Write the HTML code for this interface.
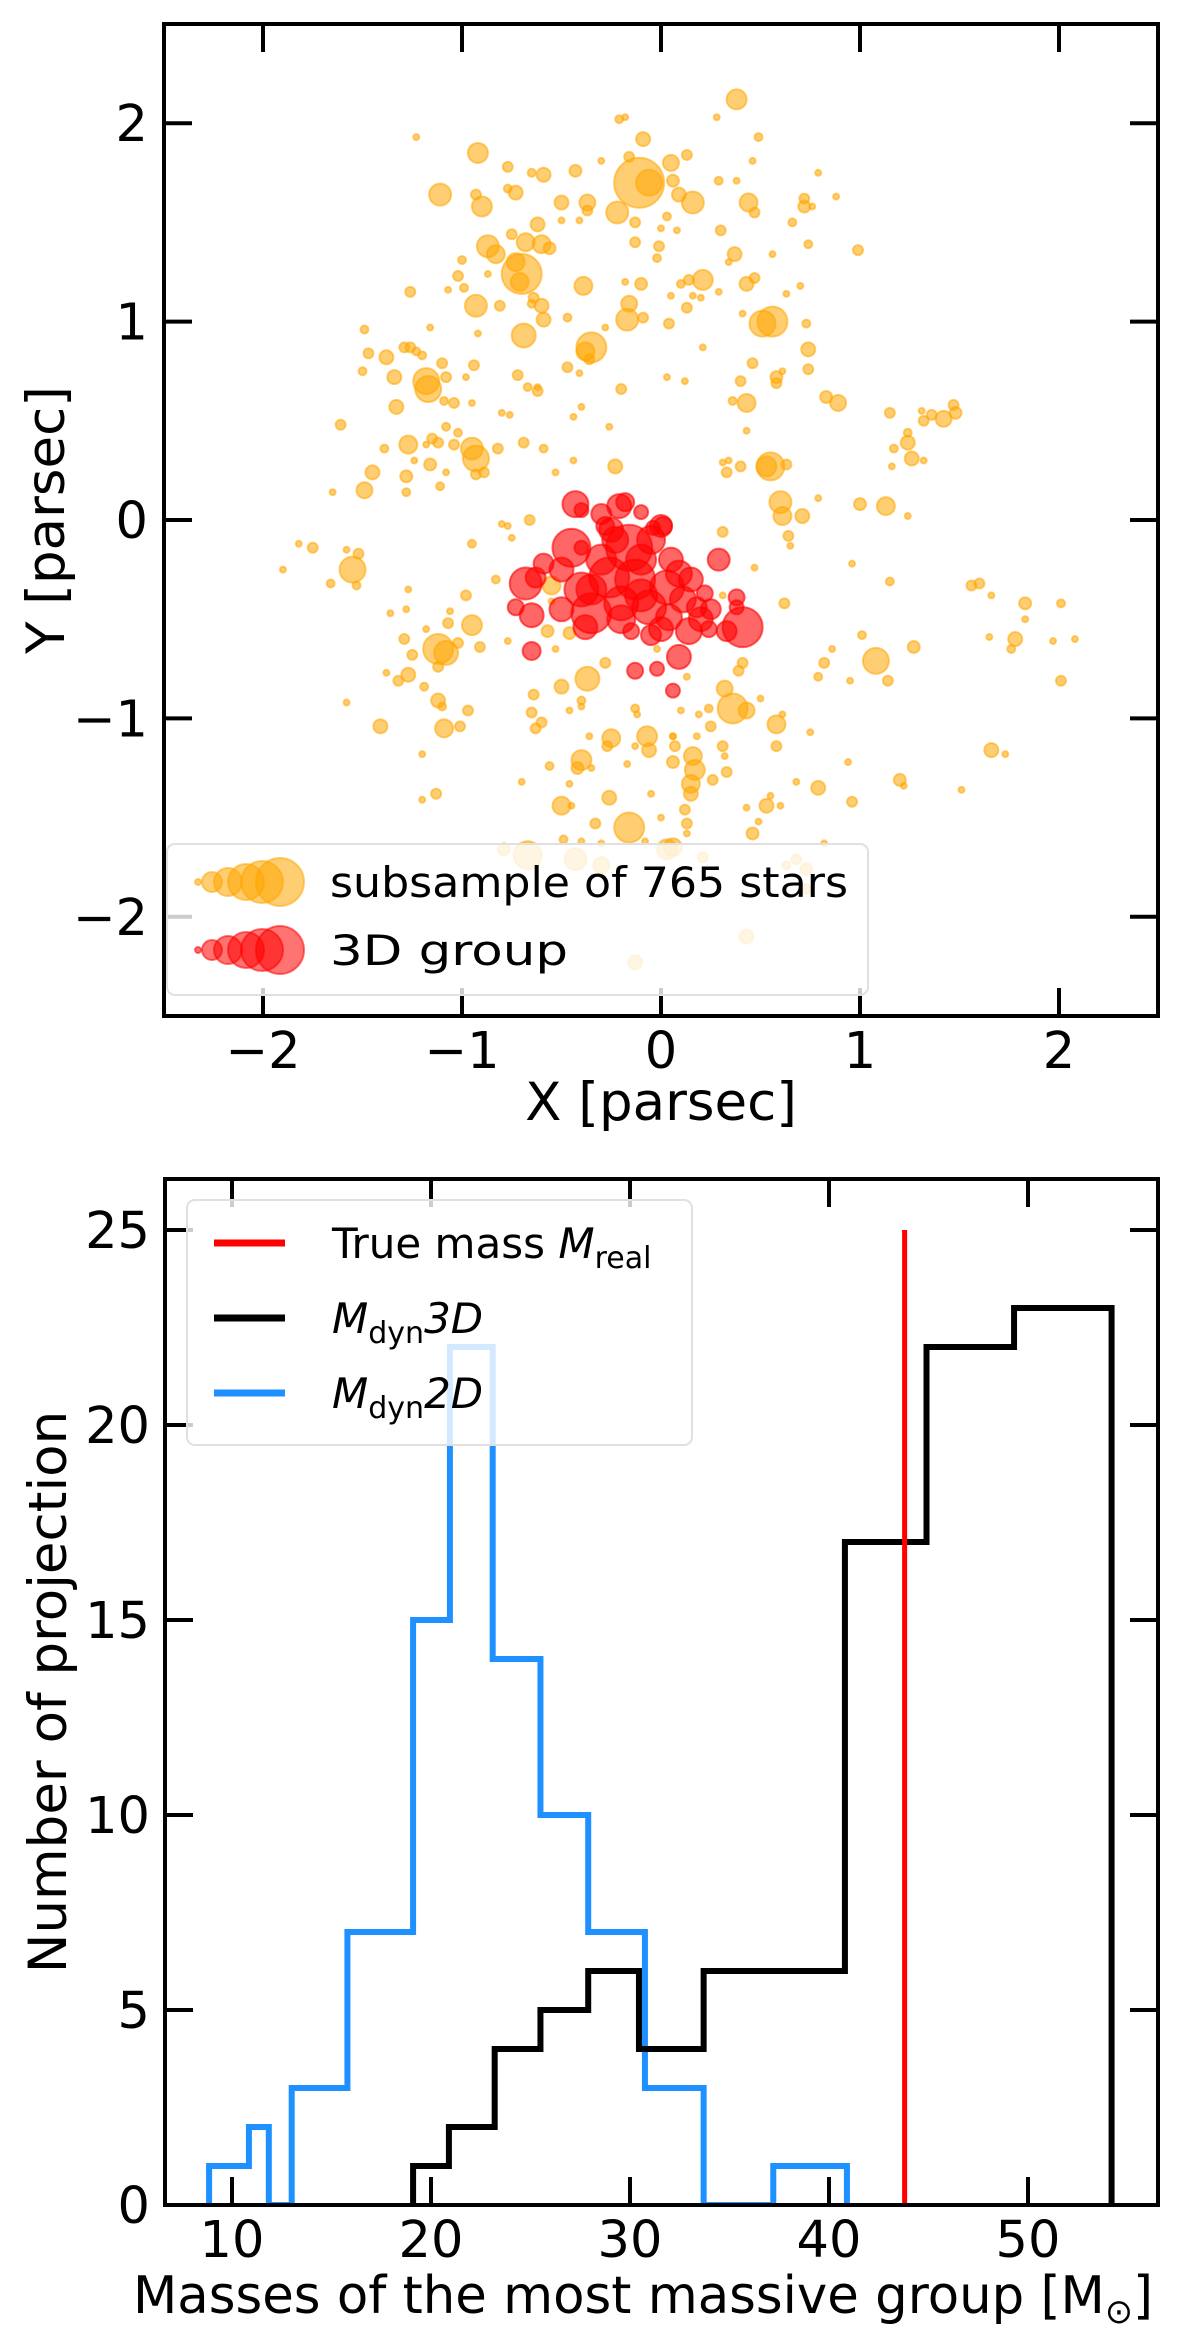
<!DOCTYPE html>
<html><head><meta charset="utf-8"><style>
html,body{margin:0;padding:0;background:#fff;}
svg text{font-family:"DejaVu Sans","Liberation Sans",sans-serif;fill:#000;}
</style></head><body>
<svg id="fig" xmlns="http://www.w3.org/2000/svg" width="1200" height="2343" viewBox="0 0 1200 2343">
<defs><clipPath id="clipB"><rect x="167" y="1181" width="989" height="1022"/></clipPath></defs>
<g id="top"></g>
<g id="bot"></g>
</svg>
<script>
// ---------- scatter data (parsec) ----------
const orangeX=[0.38,0.28,0.49,0.46,-0.21,-0.18,-0.09,-1.23,-0.92,-0.77,-0.65,-0.59,-0.43,-0.30,-0.16,-0.11,-0.06,0.05,0.13,0.06,0.09,0.16,-0.22,-0.13,0.03,0.00,0.08,-0.13,-0.01,-0.02,0.29,0.38,0.44,0.47,0.30,0.37,0.34,-1.11,-0.93,-0.90,-0.77,-0.73,-0.50,-0.37,-0.37,-0.50,-0.41,-0.87,-0.83,-0.75,-0.68,-0.62,-0.60,-0.56,-0.70,-0.73,-0.71,-1.00,-1.02,-0.87,-0.99,-1.07,-1.26,-0.93,-0.81,-0.64,-0.60,-0.59,-0.65,-0.39,-0.18,-0.10,0.21,0.14,0.10,0.05,0.16,0.20,0.29,0.13,0.43,0.47,-0.16,-0.17,-0.09,0.04,-0.47,-0.28,-0.69,-0.92,-1.16,-1.49,0.51,0.41,-0.35,-0.38,-0.36,-0.47,-0.41,0.21,0.46,0.40,0.43,0.36,0.43,0.03,0.12,-0.20,-0.72,-0.67,-0.62,-0.62,-0.98,-0.94,-1.10,-0.95,-1.18,-1.17,-1.08,-1.26,-1.23,-1.20,-1.29,-1.38,-1.47,-1.50,-1.34,-1.09,-1.04,-1.33,-1.61,-0.80,-0.76,-0.40,-0.44,-0.26,-1.08,-1.02,-1.15,-1.12,-1.18,-1.27,-1.04,-0.95,-0.93,-0.89,-0.93,-0.82,-0.69,-0.59,-1.39,-1.24,-1.16,-1.08,-1.28,-1.45,-1.49,-1.11,-1.28,-1.65,-0.44,-0.53,-0.23,0.31,0.34,0.40,0.33,0.53,
0.79,0.88,0.72,0.72,0.76,0.66,0.74,0.99,0.56,0.63,0.70,0.56,0.73,0.74,0.74,0.58,0.58,0.61,0.83,0.89,1.15,1.24,1.24,1.17,1.26,1.16,1.32,1.32,1.36,1.42,1.47,1.48,1.31,0.55,0.63,0.60,0.61,0.71,0.79,1.00,1.13,1.24,
0.47,0.31,0.64,0.65,0.96,1.15,1.56,1.60,1.66,1.83,2.01,1.83,0.62,0.31,1.01,0.86,0.82,1.08,1.27,0.79,0.95,1.14,1.65,1.78,1.76,1.97,2.08,2.01,0.41,0.39,0.32,0.36,0.43,0.50,0.58,0.61,0.75,0.58,0.25,0.24,0.19,0.10,0.06,0.18,0.31,0.32,0.07,0.16,0.06,0.17,0.15,0.15,0.26,0.33,1.66,1.73,0.94,1.20,1.22,1.51,0.68,0.79,0.96,0.53,0.55,0.60,0.43,0.49,0.46,0.12,0.13,0.13,0.00,0.82,0.06,0.21,0.68,0.63,0.73,0.73,0.43,
-1.75,-1.58,-1.52,-1.55,-1.53,-1.66,-0.95,-0.75,-0.83,-1.27,-1.28,-1.36,-0.98,-1.06,-1.07,-0.95,-1.18,-1.29,-1.12,-1.08,-1.02,-0.91,-1.25,-1.12,-1.27,-1.32,-1.38,-1.19,-1.12,-1.10,-1.58,-0.97,-1.41,-1.09,-1.01,-1.20,-1.13,-1.20,-0.77,-0.55,-0.55,-0.57,-0.53,-0.46,-0.66,-0.80,-0.77,-0.28,-0.37,-0.50,-0.64,-0.40,-0.40,-0.46,-0.65,-0.60,-0.63,-0.56,-0.70,-0.46,-0.40,-0.42,-0.35,-0.25,-0.27,-0.36,-0.17,-0.07,-0.06,-0.13,-0.13,-0.12,-0.02,0.13,0.06,-0.26,-0.50,-0.45,-0.33,-0.16,-0.05,-0.49,-0.40,-0.30,-0.08,-0.79,-0.67,-0.43,-0.30,0.03,-0.13,-1.82,-1.9];
const orangeY=[2.12,2.03,1.93,1.81,2.02,2.03,1.92,1.93,1.85,1.78,1.75,1.74,1.76,1.81,1.83,1.70,1.70,1.80,1.84,1.71,1.64,1.60,1.55,1.50,1.53,1.47,1.46,1.40,1.38,1.32,1.71,1.71,1.60,1.55,1.46,1.34,1.30,1.64,1.64,1.58,1.67,1.65,1.60,1.60,1.56,1.51,1.51,1.38,1.34,1.44,1.40,1.49,1.39,1.37,1.24,1.30,1.20,1.31,1.23,1.24,1.17,1.16,1.15,1.08,1.08,1.12,1.08,1.01,1.09,1.18,1.20,1.19,1.21,1.21,1.19,1.13,1.13,1.12,1.15,1.07,1.19,1.22,1.09,1.01,1.02,0.99,1.02,0.97,0.93,0.94,0.97,0.96,0.99,1.04,0.87,0.85,0.81,0.77,0.74,0.87,0.79,0.70,0.59,0.60,0.45,0.72,0.70,0.66,0.73,0.67,0.65,0.67,0.72,0.78,0.79,0.59,0.70,0.66,0.72,0.87,0.85,0.83,0.87,0.82,0.84,0.75,0.72,0.60,0.59,0.57,0.48,0.54,0.53,0.57,0.52,0.47,0.47,0.44,0.41,0.39,0.38,0.38,0.38,0.36,0.31,0.24,0.23,0.36,0.39,0.36,0.36,0.30,0.28,0.24,0.22,0.24,0.15,0.17,0.14,0.14,0.30,0.24,0.27,0.29,0.30,0.27,0.24,0.27,
1.75,1.63,1.62,1.58,1.58,1.50,1.39,1.36,1.34,1.14,1.18,1.00,0.99,0.86,0.76,0.72,0.69,0.75,0.62,0.59,0.54,0.44,0.39,0.36,0.31,0.27,0.30,0.50,0.53,0.51,0.58,0.54,0.55,0.27,0.28,0.09,0.02,0.02,0.11,0.08,0.07,0.02,
-0.24,-0.06,-0.08,-0.13,-0.22,-0.31,-0.33,-0.32,-0.38,-0.42,-0.42,-0.50,-0.42,-0.38,-0.58,-0.65,-0.72,-0.71,-0.64,-0.79,-0.81,-0.81,-0.59,-0.60,-0.65,-0.61,-0.60,-0.81,-0.72,-0.76,-0.85,-0.95,-0.96,-0.90,-1.03,-0.98,-1.07,-1.14,-1.04,-0.95,-0.98,-0.96,-1.09,-1.09,-1.14,-1.19,-1.14,-1.19,-1.22,-1.26,-1.33,-1.38,-1.31,-1.27,-1.16,-1.18,-1.22,-1.31,-1.34,-1.36,-1.32,-1.35,-1.42,-1.44,-1.39,-1.44,-1.45,-1.52,-1.58,-1.46,-1.53,-1.58,-1.50,-1.63,-1.65,-1.70,-1.71,-1.74,-1.76,-1.86,-2.10,
-0.14,-0.15,-0.17,-0.25,-0.33,-0.32,-0.12,-0.09,-0.30,-0.35,-0.45,-0.47,-0.38,-0.46,-0.52,-0.53,-0.55,-0.60,-0.65,-0.67,-0.62,-0.64,-0.68,-0.74,-0.78,-0.81,-0.77,-0.84,-0.91,-0.94,-0.92,-0.96,-1.04,-1.05,-1.04,-1.18,-1.38,-1.41,-0.61,-0.33,-0.41,-0.56,-0.65,-0.57,0.00,-0.02,-0.03,-0.72,-0.80,-0.84,-0.88,-0.91,-0.94,-0.96,-0.97,-1.02,-1.05,-1.24,-1.32,-1.33,-1.21,-1.25,-1.25,-1.10,-1.14,-1.09,-1.23,-1.09,-1.16,-1.14,-0.95,-0.98,-0.65,-0.79,-1.09,-1.40,-1.44,-1.44,-1.53,-1.55,-1.38,-1.61,-1.62,-1.63,-1.62,-1.66,-1.69,-1.71,-1.74,-1.66,-2.23,-0.12,-0.25];
const orangeS=[10,3,4,3,4,3,7,3,10,5,4,7,6,3,5,25,13,8,5,6,7,11,11,5,4,3,3,5,5,4,4,3,9,5,5,7,3,11,5,10,4,7,7,8,5,3,3,11,9,5,9,7,9,6,20,9,9,4,5,3,4,3,5,11,5,5,7,7,4,9,3,6,10,5,4,3,3,3,3,5,7,5,8,11,5,5,4,3,12,3,3,4,13,3,15,9,5,5,3,3,5,5,9,4,3,3,3,5,5,4,5,3,3,5,5,3,13,13,5,5,4,4,5,7,5,4,7,4,5,7,5,3,3,3,3,3,4,4,5,5,3,9,5,11,13,5,5,5,5,4,4,3,6,3,6,7,8,4,4,3,3,3,7,3,3,5,5,10,
3,3,5,6,3,4,4,5,3,3,3,15,4,7,5,6,5,3,6,8,5,4,7,4,7,3,3,5,5,8,5,6,3,14,5,11,9,7,3,6,9,3,
3,5,5,3,3,4,5,5,3,6,4,3,5,3,4,3,5,13,6,4,3,5,3,7,4,3,3,5,5,5,8,15,8,3,9,3,3,5,5,4,3,3,3,3,5,3,5,9,6,10,9,7,5,5,7,3,3,6,3,3,3,7,5,7,3,3,3,3,6,5,5,3,3,3,9,5,5,4,6,5,7,
5,3,5,13,4,4,4,3,4,3,3,3,5,3,5,10,3,5,15,12,5,5,5,5,7,5,3,4,7,4,3,5,7,9,5,3,5,3,3,9,3,6,3,6,5,3,3,5,12,7,5,4,3,3,5,5,5,4,3,3,10,6,3,9,5,3,3,10,7,3,4,3,3,3,3,7,9,3,5,15,3,4,3,3,3,6,14,11,8,10,7,3,3];
const redX=[-0.43,-0.40,-0.30,-0.21,-0.18,-0.10,0.00,-0.04,-0.28,-0.45,-0.40,-0.16,-0.23,0.29,-0.59,-0.68,-0.63,-0.73,-0.65,-0.65,-0.40,-0.26,-0.13,0.03,0.09,-0.35,-0.20,-0.06,0.11,0.18,0.22,0.38,0.38,0.41,0.33,0.24,0.14,0.04,-0.05,-0.15,-0.38,0.09,-0.02,-0.13,0.06,0.01,
-0.30,-0.10,0.05,-0.35,-0.20,0.00,0.20,-0.50,-0.25,-0.05,0.15,-0.50,0.25,-0.10];
const redY=[0.08,0.05,0.03,0.07,0.09,0.04,-0.03,-0.04,-0.03,-0.14,-0.14,-0.14,-0.10,-0.20,-0.22,-0.32,-0.29,-0.44,-0.48,-0.66,-0.35,-0.29,-0.30,-0.34,-0.27,-0.47,-0.42,-0.44,-0.40,-0.44,-0.37,-0.39,-0.44,-0.54,-0.56,-0.55,-0.56,-0.49,-0.58,-0.56,-0.54,-0.69,-0.75,-0.76,-0.86,-0.03,
-0.20,-0.20,-0.20,-0.35,-0.50,-0.55,-0.50,-0.45,-0.05,-0.10,-0.30,-0.25,-0.45,-0.38];
const redS=[13,7,10,12,9,7,11,7,9,19,7,23,13,11,10,16,10,8,12,9,17,20,20,17,13,20,17,17,13,10,8,8,7,20,10,8,13,13,10,8,12,12,7,8,7,9,
15,15,12,15,14,12,12,12,12,14,12,12,10,16];
const xTicksTop=[-2,-1,0,1,2];
const yTicksTop=[-2,-1,0,1,2];
// ---------- histogram data ----------
const blueEdges=[8.85,10.85,11.85,13.0,15.8,19.1,20.95,23.1,25.5,27.9,30.75,33.7,37.2,40.9];
const blueCounts=[1,2,0,3,7,15,22,14,10,7,3,0,1];
const blackEdges=[19.1,20.9,23.2,25.5,27.9,30.45,33.7,40.8,44.9,49.3,54.2];
const blackCounts=[1,2,4,5,6,4,6,17,22,23];
const trueMass=[43.8];
const trueMassTop=[25];
const xTicksBot=[10,20,30,40,50];
const yTicksBot=[0,5,10,15,20,25];

const NS="http://www.w3.org/2000/svg";
function mk(parent,tag,attrs,txt){const e=document.createElementNS(NS,tag);for(const k in attrs)e.setAttribute(k,attrs[k]);if(txt!==undefined)e.textContent=txt;parent.appendChild(e);return e;}

// ===== top panel =====
const T=document.getElementById('top');
const tL=164,tR=1158,tT=24,tB=1016;
const sx=v=>661+v*199, sy=v=>520-v*198.4;
const pts=mk(T,'g',{});


for(let i=0;i<orangeX.length;i++){
  const c=mk(pts,'circle',{cx:sx(orangeX[i]),cy:sy(orangeY[i]),r:orangeS[i],fill:'rgba(255,165,0,0.55)',stroke:'rgba(255,165,0,0.55)','stroke-width':2});
  
  
}
const rp=mk(T,'g',{});


for(let i=0;i<redX.length;i++){
  const c=mk(rp,'circle',{cx:sx(redX[i]),cy:sy(redY[i]),r:redS[i],fill:'rgba(255,0,0,0.6)',stroke:'rgba(255,0,0,0.6)','stroke-width':2});
  
  
}
for(const v of xTicksTop){
  const x=sx(v);
  mk(T,'line',{x1:x,y1:tB,x2:x,y2:tB-28,stroke:'#000','stroke-width':4});
  mk(T,'line',{x1:x,y1:tT,x2:x,y2:tT+28,stroke:'#000','stroke-width':4});
  const t=mk(T,'text',{x:x,y:1068,'font-size':51,'text-anchor':'middle'},(v<0?'\u2212':'')+Math.abs(v));
  
  
}
for(const v of yTicksTop){
  const y=sy(v);
  mk(T,'line',{x1:tL,y1:y,x2:tL+28,y2:y,stroke:'#000','stroke-width':4});
  mk(T,'line',{x1:tR,y1:y,x2:tR-28,y2:y,stroke:'#000','stroke-width':4});
  const t=mk(T,'text',{x:148,y:y+18,'font-size':51,'text-anchor':'end'},(v<0?'\u2212':'')+Math.abs(v));
  
  
}
const lg=mk(T,'g',{});


mk(lg,'rect',{x:167,y:844,width:701,height:151,rx:8,fill:'rgba(255,255,255,0.8)',stroke:'#e0e0e0','stroke-width':2});
const lgR=[3,10,14,18,21,24], lgX=[198,212,228,246,262,280];
for(let i=0;i<lgR.length;i++){
  mk(lg,'circle',{cx:lgX[i],cy:882,r:lgR[i],fill:'rgba(255,165,0,0.55)',stroke:'rgba(255,165,0,0.55)','stroke-width':2});
  mk(lg,'circle',{cx:lgX[i],cy:950,r:lgR[i],fill:'rgba(255,0,0,0.55)',stroke:'rgba(255,0,0,0.55)','stroke-width':2});
}
mk(lg,'text',{x:330,y:897,'font-size':42,textLength:518,lengthAdjust:'spacingAndGlyphs'},'subsample of 765 stars');
mk(lg,'text',{x:330,y:965,'font-size':42,textLength:238,lengthAdjust:'spacingAndGlyphs'},'3D group');
const f1=mk(T,'rect',{x:tL,y:tT,width:tR-tL,height:tB-tT,fill:'none',stroke:'#000','stroke-width':4});


const xl=mk(T,'text',{x:661,y:1120,'font-size':53,'text-anchor':'middle'},'X [parsec]');


const yl=mk(T,'text',{x:0,y:0,'font-size':53,'text-anchor':'middle',transform:'translate(64,520) rotate(-90)'},'Y [parsec]');



// ===== bottom panel =====
const B=document.getElementById('bot');
const bL=165,bR=1158,bT=1179,bB=2205;
const hx=v=>232+(v-10)*19.9, hy=v=>2205-v*39.0;
function stepPath(edges,counts){
  let d='M'+hx(edges[0])+','+hy(0);
  for(let i=0;i<counts.length;i++){d+=' L'+hx(edges[i])+','+hy(counts[i])+' L'+hx(edges[i+1])+','+hy(counts[i]);}
  d+=' L'+hx(edges[edges.length-1])+','+hy(0);
  return d;
}
const hg=mk(B,'g',{'clip-path':'url(#clipB)'});


const bl=mk(hg,'path',{d:stepPath(blueEdges,blueCounts),fill:'none',stroke:'#1e90ff','stroke-width':6,'stroke-linejoin':'miter'});


const bk=mk(hg,'path',{d:stepPath(blackEdges,blackCounts),fill:'none',stroke:'#000','stroke-width':6,'stroke-linejoin':'miter'});


const rl=mk(B,'line',{x1:hx(trueMass[0]),y1:hy(0),x2:hx(trueMass[0]),y2:hy(trueMassTop[0]),stroke:'#ff0000','stroke-width':5});


for(const v of xTicksBot){
  const x=hx(v);
  mk(B,'line',{x1:x,y1:bB,x2:x,y2:bB-28,stroke:'#000','stroke-width':4});
  mk(B,'line',{x1:x,y1:bT,x2:x,y2:bT+28,stroke:'#000','stroke-width':4});
  const t=mk(B,'text',{x:x,y:2257,'font-size':51,'text-anchor':'middle'},String(v));
  
  
}
for(const v of yTicksBot){
  const y=hy(v);
  mk(B,'line',{x1:bL,y1:y,x2:bL+28,y2:y,stroke:'#000','stroke-width':4});
  mk(B,'line',{x1:bR,y1:y,x2:bR-28,y2:y,stroke:'#000','stroke-width':4});
  const t=mk(B,'text',{x:150,y:y+18,'font-size':51,'text-anchor':'end'},String(v));
  
  
}
const lb=mk(B,'g',{});


mk(lb,'rect',{x:187,y:1200,width:505,height:245,rx:8,fill:'rgba(255,255,255,0.8)',stroke:'#e0e0e0','stroke-width':2});
mk(lb,'line',{x1:214,y1:1243,x2:285,y2:1243,stroke:'#ff0000','stroke-width':7});
mk(lb,'line',{x1:214,y1:1318,x2:285,y2:1318,stroke:'#000','stroke-width':7});
mk(lb,'line',{x1:214,y1:1393,x2:285,y2:1393,stroke:'#1e90ff','stroke-width':7});
const t1=mk(lb,'text',{x:332,y:1258,'font-size':42});
t1.innerHTML='True mass <tspan font-style="italic">M</tspan><tspan font-size="30" dy="10">real</tspan>';
const t2=mk(lb,'text',{x:332,y:1333,'font-size':42});
t2.innerHTML='<tspan font-style="italic">M</tspan><tspan font-size="30" dy="10">dyn</tspan><tspan dy="-10" font-style="italic">3D</tspan>';
const t3=mk(lb,'text',{x:332,y:1408,'font-size':42});
t3.innerHTML='<tspan font-style="italic">M</tspan><tspan font-size="30" dy="10">dyn</tspan><tspan dy="-10" font-style="italic">2D</tspan>';
const f2=mk(B,'rect',{x:bL,y:bT,width:bR-bL,height:bB-bT,fill:'none',stroke:'#000','stroke-width':4});


const xl2=mk(B,'text',{x:643,y:2313,'font-size':52,'text-anchor':'middle',textLength:1020,lengthAdjust:'spacingAndGlyphs'});
xl2.innerHTML='Masses of the most massive group [M<tspan font-size="34" dy="10">\u2299</tspan><tspan dy="-10">]</tspan>';


const yl2=mk(B,'text',{x:0,y:0,'font-size':53,'text-anchor':'middle',transform:'translate(66,1692) rotate(-90)'},'Number of projection');


</script>
</body></html>
